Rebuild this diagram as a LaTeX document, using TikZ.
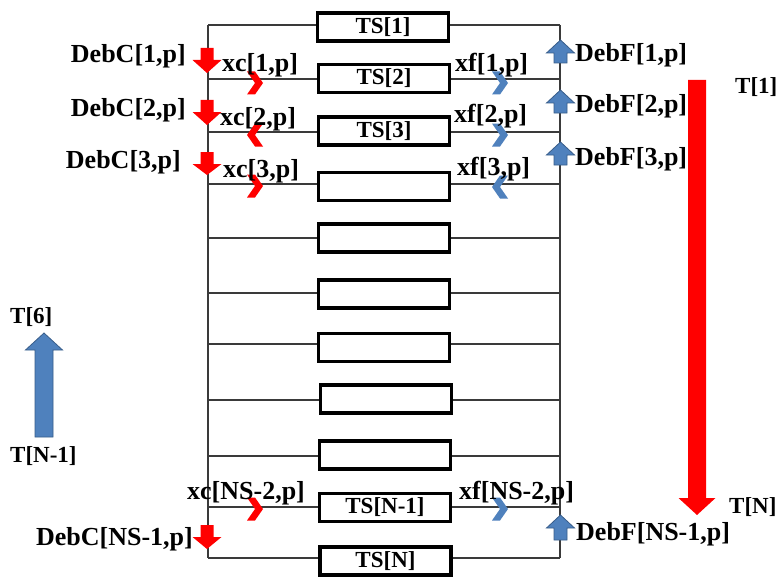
\documentclass[tikz,border=0pt]{standalone}
\usepackage{fontspec}
\setmainfont{Liberation Serif}
\definecolor{redA}{HTML}{FF0000}
\definecolor{blueA}{HTML}{4F81BD}
\definecolor{blueB}{HTML}{385D8A}
\definecolor{lineC}{HTML}{3A3A3A}
% vertical block arrow: style, cx, tail y, head-base y, tip y, half shaft, half head
\newcommand\vblockarrow[7]{%
  \filldraw[#1] ({#2-#6},#3) -- ({#2+#6},#3) -- ({#2+#6},#4) -- ({#2+#7},#4)
    -- (#2,#5) -- ({#2-#7},#4) -- ({#2-#6},#4) -- cycle;}
% chevron: style, cx, cy, direction (1 right, -1 left)
\newcommand\chevmark[4]{%
  \fill[#1] ({#2-8*#4},{#3-11.5}) -- ({#2+0*#4},{#3-11.5}) -- ({#2+8*#4},#3)
    -- (#2,{#3+11.5}) -- ({#2-8*#4},{#3+11.5}) -- (#2,#3) -- cycle;}
\begin{document}
\begin{tikzpicture}[x=1pt,y=-1pt,
  tray/.style={draw=black,line width=3.2pt,fill=white,minimum width=131pt,
    minimum height=28pt,inner sep=0pt,font=\fontsize{23}{25}\selectfont\bfseries},
  lbl/.style={inner sep=0pt,font=\fontsize{26}{28}\selectfont\bfseries},
  tlbl/.style={inner sep=0pt,font=\fontsize{23}{25}\selectfont\bfseries},
  wire/.style={draw=lineC,line width=1.3pt},
  redfill/.style={fill=redA,draw=none},
  bluefill/.style={fill=blueA,draw=blueB,line width=0.8pt}]
\useasboundingbox[fill=white] (0,0) rectangle (777,578);

% wire coordinates
\foreach \i/\y in {1/25,2/79,3/132,4/184,5/238,6/293,7/344,8/400,9/456,10/507,11/558}{
  \coordinate (l\i) at (208,\y);
  \coordinate (r\i) at (560,\y);
}
% vertical wires
\draw[wire] (l1) -- (l11);
\draw[wire] (r1) -- (r11);

% trays
\node[tray] (b1) at (383,27) {TS[1]};
\node[tray] (b2) at (384,78.5) {TS[2]};
\node[tray] (b3) at (384,131) {TS[3]};
\node[tray] (b4) at (384,186.5) {};
\node[tray] (b5) at (384,238) {};
\node[tray] (b6) at (384,294) {};
\node[tray] (b7) at (384,347.5) {};
\node[tray] (b8) at (386,399) {};
\node[tray] (b9) at (385,455) {};
\node[tray] (b10) at (385,507.5) {TS[N-1]};
\node[tray] (b11) at (385.5,561) {TS[N]};

% horizontal wires
\foreach \i in {1,...,11}{
  \draw[wire] (l\i) -- (b\i.west |- l\i);
  \draw[wire] (b\i.east |- r\i) -- (r\i);
}

% small feed arrows (left, red, down)
\vblockarrow{redfill}{207}{48}{60}{73}{6.5}{14.5}
\vblockarrow{redfill}{207}{100}{112}{125}{6.5}{14.5}
\vblockarrow{redfill}{207}{152}{164}{175}{6.5}{14.5}
\vblockarrow{redfill}{207}{525}{537}{549}{6.5}{14.5}
% small arrows (right, blue, up)
\vblockarrow{bluefill}{560.5}{63}{53}{40}{6.5}{14}
\vblockarrow{bluefill}{560.5}{113}{103}{90}{6.5}{14}
\vblockarrow{bluefill}{560.5}{165}{155}{142}{6.5}{14}
\vblockarrow{bluefill}{560.5}{540}{528}{515}{6.5}{14}

% chevrons
\chevmark{redA}{255}{83}{1}
\chevmark{redA}{255}{135}{-1}
\chevmark{redA}{255}{186}{1}
\chevmark{redA}{255}{509}{1}
\chevmark{blueA}{500}{83}{1}
\chevmark{blueA}{500}{135}{1}
\chevmark{blueA}{500}{187}{-1}
\chevmark{blueA}{500}{509}{1}

% big arrows
\vblockarrow{redfill}{697}{80}{498}{515}{9}{18.5}
\vblockarrow{bluefill}{44}{437}{350}{333}{9}{18.5}

% labels
\node[lbl,anchor=base east] (dc1) at (186,63) {DebC[1,p]};
\node[lbl,anchor=base east] (dc2) at (186,117) {DebC[2,p]};
\node[lbl,anchor=base east] (dc3) at (181,168) {DebC[3,p]};
\node[lbl,anchor=base east] (dcn) at (193,545) {DebC[NS-1,p]};
\node[lbl,anchor=base west] (df1) at (575,62) {DebF[1,p]};
\node[lbl,anchor=base west] (df2) at (575,112) {DebF[2,p]};
\node[lbl,anchor=base west] (df3) at (575,165) {DebF[3,p]};
\node[lbl,anchor=base west] (dfn) at (576,540) {DebF[NS-1,p]};
\node[lbl,anchor=base west] (xc1) at (222,72) {xc[1,p]};
\node[lbl,anchor=base west] (xc2) at (220,125) {xc[2,p]};
\node[lbl,anchor=base west] (xc3) at (223,177) {xc[3,p]};
\node[lbl,anchor=base west] (xcn) at (187,499) {xc[NS-2,p]};
\node[lbl,anchor=base west] (xf1) at (455,72) {xf[1,p]};
\node[lbl,anchor=base west] (xf2) at (454,122) {xf[2,p]};
\node[lbl,anchor=base west] (xf3) at (457,175) {xf[3,p]};
\node[lbl,anchor=base west] (xfn) at (459,499) {xf[NS-2,p]};
\node[tlbl,anchor=base west] (t1) at (735,93) {T[1]};
\node[tlbl,anchor=base west] (tn) at (729,513) {T[N]};
\node[tlbl,anchor=base west] (t6) at (10,323) {T[6]};
\node[tlbl,anchor=base west] (tn1) at (10,462) {T[N-1]};
\end{tikzpicture}
\end{document}
